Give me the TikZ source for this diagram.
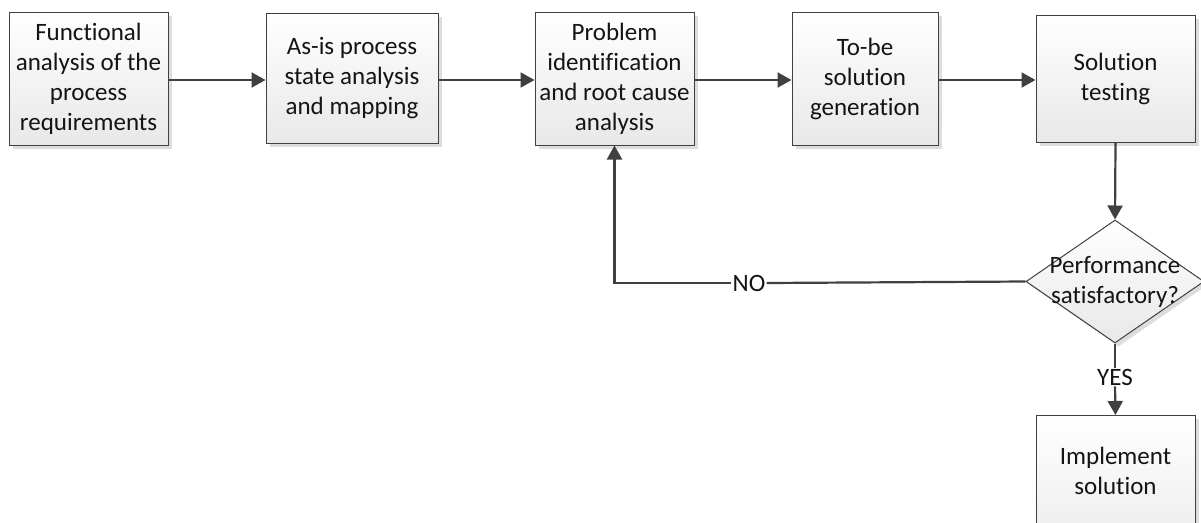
\documentclass[tikz,border=0pt]{standalone}
\usepackage{fontspec}
\setmainfont[Ligatures=NoCommon]{Carlito}
\usetikzlibrary{shapes.geometric,arrows.meta,shadows}
\begin{document}
\begin{tikzpicture}[x=1pt,y=-1pt,
  every node/.style={font=\fontsize{25pt}{30pt}\selectfont, align=center, text=black!92},
  stepbox/.style={draw=black!75, line width=1pt, top color=white, bottom color=black!9,
    inner sep=0pt, drop shadow={shadow xshift=3.5pt, shadow yshift=-3.5pt, fill=black!22, opacity=0.6}},
  decbox/.style={diamond, draw=black!75, line width=1pt, top color=white, bottom color=black!9,
    inner sep=0pt, minimum width=178pt, minimum height=123pt,
    drop shadow={shadow xshift=3.5pt, shadow yshift=-3.5pt, fill=black!22, opacity=0.6}},
  flow/.style={draw=black!75, line width=2.2pt, -{Triangle[length=14pt,width=15pt]}},
  link/.style={draw=black!75, line width=2.2pt},
  lbl/.style={inner sep=1pt}
]
\useasboundingbox (0,0) rectangle (1201,522);
\clip (0,0) rectangle (1201,522);

% process steps
\node[stepbox, minimum width=159pt, minimum height=133pt] (fa) at (88.5,78.5)
  {Functional\\analysis of the\\process\\requirements};
\node[stepbox, minimum width=172pt, minimum height=130pt] (asis) at (352,78)
  {As-is process\\state analysis\\and mapping};
\node[stepbox, minimum width=159pt, minimum height=133pt] (prob) at (614.5,78.5)
  {Problem\\identification\\and root cause\\analysis};
\node[stepbox, minimum width=146pt, minimum height=133pt] (tobe) at (865,78.5)
  {To-be\\solution\\generation};
\node[stepbox, minimum width=159pt, minimum height=127pt] (test) at (1115.5,78.5)
  {Solution\\testing};

% decision
\node[decbox] (dec) at (1115,281.5) {};
\node (dectxt) at (1115,281.5) {Performance\\satisfactory?};

% final step (continues below the page edge)
\node[stepbox, anchor=north, minimum width=159pt, minimum height=160pt] (impl) at (1115.5,415) {};
\node (impltxt) at (1115.5,471) {Implement\\solution};

% branch labels
\node[lbl] (no) at (749,283) {NO};
\node[lbl] (yes) at (1115,377) {YES};

% connectors
\draw[flow] (fa.east |- 0,80) -- (asis.west |- 0,80);
\draw[flow] (asis.east |- 0,80) -- (prob.west |- 0,80);
\draw[flow] (prob.east |- 0,80) -- (tobe.west |- 0,80);
\draw[flow] (tobe.east |- 0,80) -- (test.west |- 0,80);
\draw[flow] (test.south) -- (dec.north);
\draw[link] (dec.west) -- (no.east);
\draw[flow] (no.west) -- (prob.south |- no.west) -- (prob.south);
\draw[link] (dec.south) -- (yes.north);
\draw[flow] (yes.south) -- (impl.north);
\end{tikzpicture}
\end{document}
